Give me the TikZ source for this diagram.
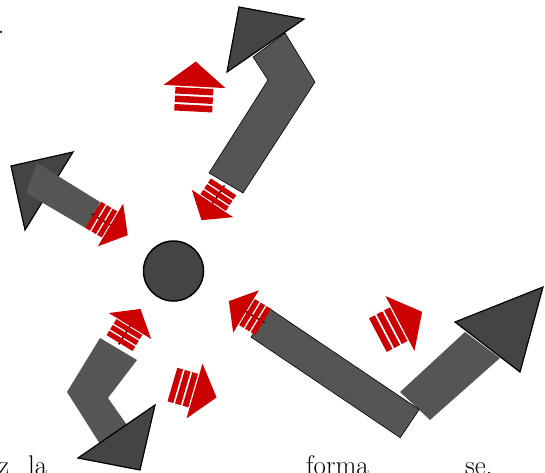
\documentclass[tikz,border=0pt]{standalone}
\usepackage{tikz}
\usepackage{fontspec}
\usetikzlibrary{calc}
\definecolor{barGray}{HTML}{555555}
\definecolor{headGray}{HTML}{444444}
\definecolor{pushRed}{HTML}{CC0000}

\begin{document}
\begin{tikzpicture}[x=1pt, y=1pt,
    bar/.style={fill=barGray},
    edged/.style={draw=black, line width=0.6pt},
    head/.style={fill=headGray, draw=black, line width=1.2pt, line join=miter},
    hub/.style={circle, fill=headGray, draw=black, line width=1.5pt, minimum size=60pt, inner sep=0pt},
    word/.style={anchor=base west, inner sep=0pt, font=\fontsize{27}{32}\selectfont},
    push/.pic={
        \fill[pushRed] (0,31) -- (25,0) -- (0,-31) -- cycle;
        \foreach \d in {1.5,10,18.5}
            \fill[pushRed] (-\d,-19) rectangle ++(-6.5,38);
    },
    tiedpush/.pic={
        \draw[line width=1.5pt] (-27,0) -- (0,0);
        \fill[pushRed] (0,31) -- (25,0) -- (0,-31) -- cycle;
        \foreach \d in {1.5,10,18.5}
            \fill[pushRed] (-\d,-19) rectangle ++(-6.5,38);
    }
]
\useasboundingbox (0,0) rectangle (545,472);
\clip (0,0) rectangle (545,472);

% Upper arrow
\fill[bar, edged] (209,299) -- (243,279) -- (315,390) -- (285,439) -- (253,415) -- (268,392) -- cycle;
\filldraw[head] (239,465) -- (304,453) -- (227,400) -- cycle;

% Left arrow
\filldraw[head] (11,306) -- (73,320) -- (25,242) -- cycle;
\fill[bar] (100,270) -- (89,242) -- (26,279) -- (37,309) -- cycle;

% Lower left arrow
\fill[bar] (100,134) -- (137,112) -- (108,74) -- (127,47) -- (100,28) -- (67,80) -- cycle;
\filldraw[head] (78,14) -- (155,67) -- (140,2) -- cycle;

% Right arrow
\fill[bar] (400,80) -- (430,52) -- (500,114) -- (465,140) -- cycle;
\filldraw[head] (455,150) -- (543,185) -- (520,100) -- cycle;
\fill[bar, edged] (270,163.1) -- (251,134.9) -- (400.2,34.3) -- (419.2,62.5) -- cycle;

% Central hub
\node[hub] (hub) at (173.5,201) {};

% Pushes
\pic[rotate=87] at (194.5,385.5) {push};
\pic[rotate=236.5, scale=0.8] at (212.5,268.5) {tiedpush};
\pic[rotate=-30.7, scale=0.8] at (110.5,247) {tiedpush};
\pic[rotate=58.5, scale=0.8] at (130,146) {tiedpush};
\pic[rotate=-16.3, scale=0.92] at (194.5,81) {push};
\pic[rotate=148.8, scale=0.8] at (246,160.5) {tiedpush};
\pic[rotate=27.8] at (400,148.5) {push};

% Text around
\node[word] (wdot) at (-2.2,438) {.};
\node[word] (wz) at (-2,-2) {z};
\node[word] (wla) at (28,-2) {la};
\node[word] (wforma) at (306,-2) {forma};
\node[word] (wse) at (465,-2) {se.};

\end{tikzpicture}
\end{document}
